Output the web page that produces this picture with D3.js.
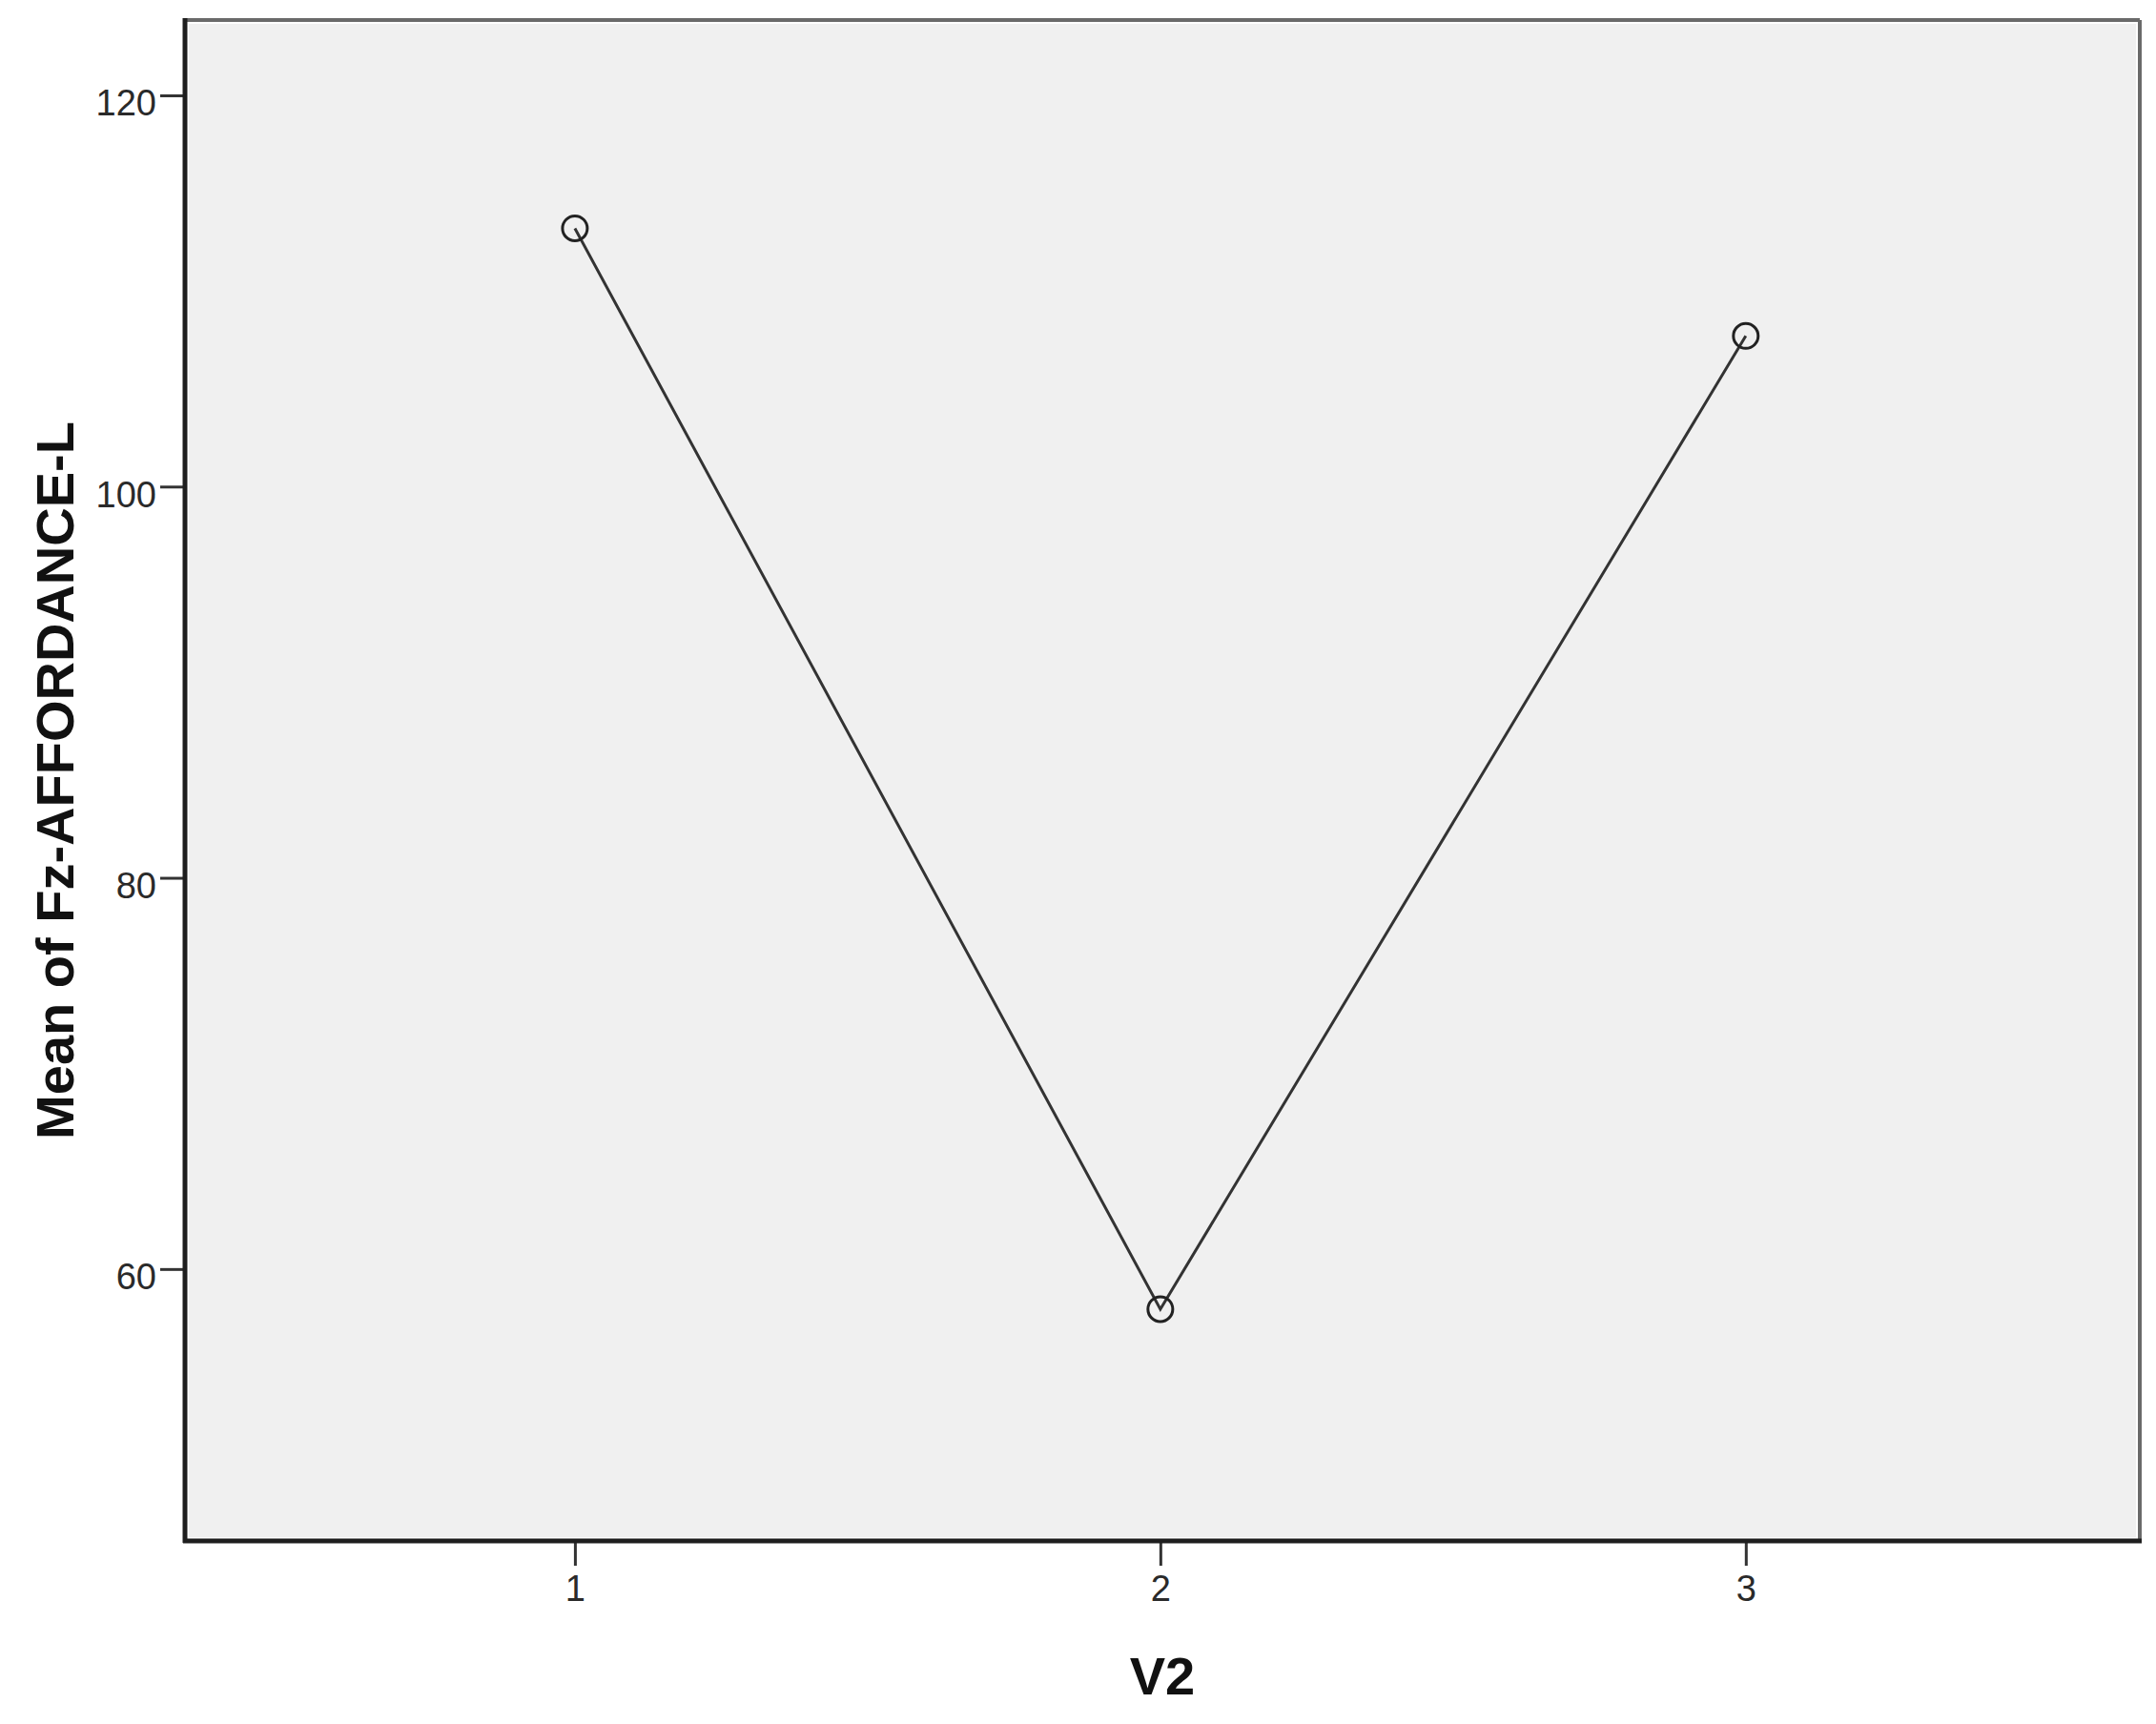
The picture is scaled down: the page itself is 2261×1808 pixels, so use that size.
<!DOCTYPE html>
<html><head><meta charset="utf-8">
<script src="https://cdn.jsdelivr.net/npm/d3@7/dist/d3.min.js"></script>
<style>html,body{margin:0;padding:0;background:#fff;}svg{display:block;}</style>
</head><body>
<script>
const categories = [1, 2, 3];
const means = [113.2, 57.95, 107.7];
const yTicks = [60, 80, 100, 120];
const xTickLabels = ["1", "2", "3"];
const xTitle = "V2";
const yTitle = "Mean of Fz-AFFORDANCE-L";
const xRange = [0.334, 3.673];
const yRange = [46.1, 123.85];

const W = 2261, H = 1808;
const L = 194, R = 2244, T = 21, B = 1616;
const font = "Arial, 'Liberation Sans', sans-serif";

const svg = d3.select("body").append("svg").attr("width", W).attr("height", H);
const x = d3.scaleLinear().domain(xRange).range([L, R]);
const y = d3.scaleLinear().domain(yRange).range([B, T]);

// plot background
svg.append("rect").attr("x", L).attr("y", T).attr("width", R - L).attr("height", B - T)
  .attr("fill", "#f0f0f0").attr("stroke", "#fff").attr("stroke-width", 8);

// frame
svg.append("line").attr("x1", L).attr("x2", R).attr("y1", T).attr("y2", T).attr("stroke", "#6a6a6a").attr("stroke-width", 4);
svg.append("line").attr("x1", R).attr("x2", R).attr("y1", T).attr("y2", B).attr("stroke", "#6a6a6a").attr("stroke-width", 4);

// axes
const yAxis = d3.axisLeft(y).tickValues(yTicks).tickSize(26).tickPadding(4).tickFormat(d3.format("d"));
const gy = svg.append("g").attr("transform", `translate(${L},0)`).call(yAxis);
gy.select(".domain").remove();
gy.selectAll(".tick line").attr("stroke", "#333").attr("stroke-width", 3);
gy.selectAll(".tick text").attr("font-family", font).attr("font-size", 38).attr("fill", "#2a2a2a")
  .attr("dy", "0.55em");

const xAxis = d3.axisBottom(x).tickValues(categories).tickSize(26).tickPadding(10)
  .tickFormat((d, i) => xTickLabels[i]);
const gx = svg.append("g").attr("transform", `translate(0,${B})`).call(xAxis);
gx.select(".domain").remove();
gx.selectAll(".tick line").attr("stroke", "#333").attr("stroke-width", 3);
gx.selectAll(".tick text").attr("font-family", font).attr("font-size", 38).attr("fill", "#2a2a2a");

svg.append("line").attr("x1", L).attr("x2", L).attr("y1", T - 2).attr("y2", B + 2).attr("stroke", "#1e1e1e").attr("stroke-width", 5);
svg.append("line").attr("x1", L - 2).attr("x2", R + 2).attr("y1", B).attr("y2", B).attr("stroke", "#1e1e1e").attr("stroke-width", 5);

// data line
const data = categories.map((c, i) => ({c, v: means[i]}));
svg.append("path").datum(data)
  .attr("d", d3.line().x(d => x(d.c)).y(d => y(d.v)))
  .attr("fill", "none").attr("stroke", "#333").attr("stroke-width", 3);
svg.selectAll("circle.pt").data(data).enter().append("circle").attr("class", "pt")
  .attr("cx", d => x(d.c)).attr("cy", d => y(d.v)).attr("r", 13)
  .attr("fill", "none").attr("stroke", "#222").attr("stroke-width", 3);

// titles
svg.append("text").attr("x", (L + R) / 2).attr("y", 1777).attr("text-anchor", "middle")
  .attr("font-family", font).attr("font-weight", "bold").attr("font-size", 56).attr("fill", "#111").text(xTitle);
svg.append("text").attr("transform", `translate(77,${(T + B) / 2}) rotate(-90)`).attr("text-anchor", "middle")
  .attr("font-family", font).attr("font-weight", "bold").attr("font-size", 56).attr("fill", "#111").text(yTitle);
</script>
</body></html>
